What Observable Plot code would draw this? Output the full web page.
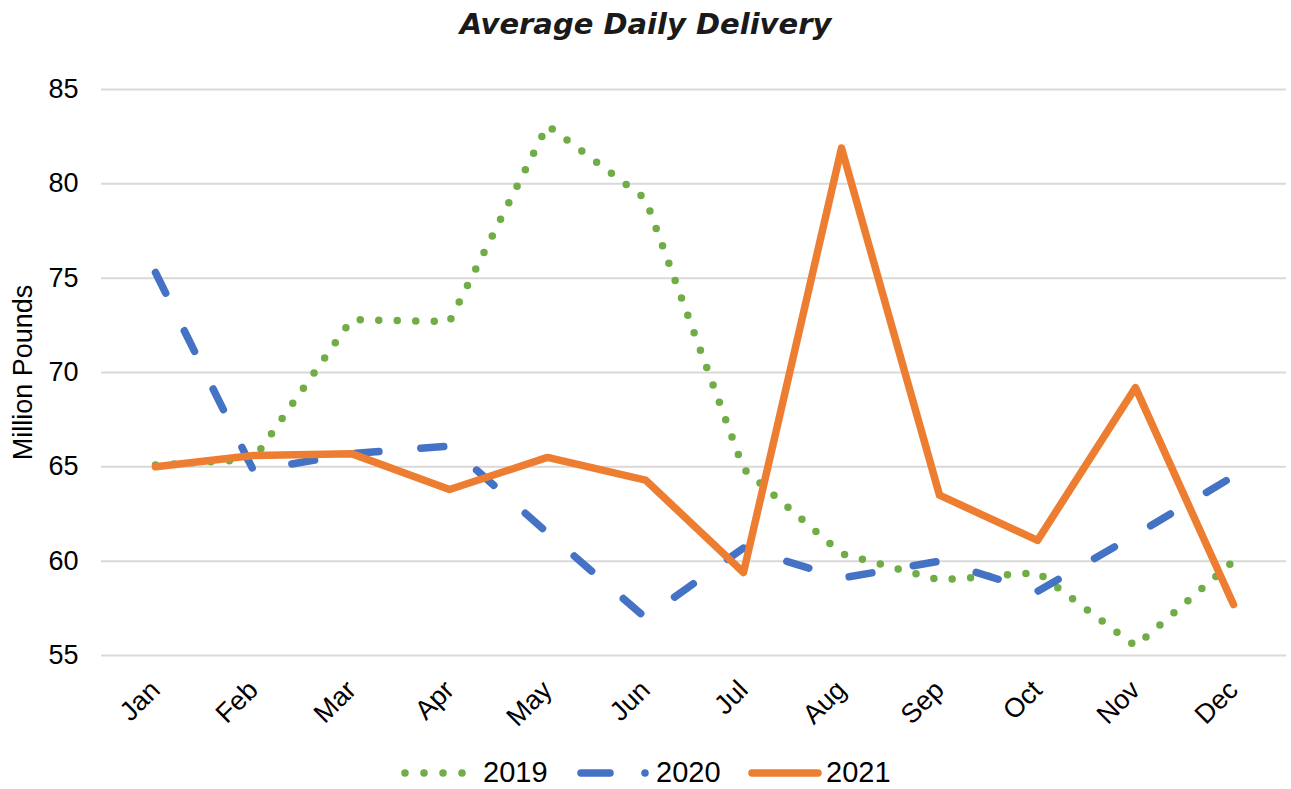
<!DOCTYPE html>
<html><head><meta charset="utf-8">
<script src="https://cdn.jsdelivr.net/npm/d3@7"></script>
<script src="https://cdn.jsdelivr.net/npm/@observablehq/plot@0.6"></script>
<style>
body{margin:0;background:#fff;width:1291px;font-family:"Liberation Sans",Arial,sans-serif;}
#title{height:48px;text-align:center;font:italic bold 29px "DejaVu Sans",Verdana,sans-serif;color:#1a1a1a;line-height:48px;white-space:nowrap}
#chart svg, #legend svg{display:block}
</style></head><body>
<div id="title">Average Daily Delivery</div>
<div id="chart"></div>
<div id="legend"></div>
<script>
const months = ["Jan","Feb","Mar","Apr","May","Jun","Jul","Aug","Sep","Oct","Nov","Dec"];
const years = ["2019","2020","2021"];
const v2019 = [65.1, 65.4, 72.8, 72.7, 83.1, 79.2, 64.9, 60.4, 59.0, 59.4, 55.5, 60.0];
const v2020 = [75.3, 64.8, 65.7, 66.1, 61.5, 57.0, 60.7, 59.1, 60.0, 58.4, 61.4, 64.5];
const v2021 = [65.0, 65.6, 65.7, 63.8, 65.5, 64.3, 59.4, 81.9, 63.5, 61.1, 69.2, 57.7];
const yTicks = [55, 60, 65, 70, 75, 80, 85];
const yLabel = "Million Pounds";
const colors = ["#70AD47", "#4472C4", "#ED7D31"];

const series = [v2019, v2020, v2021];
const rows = (vals, year) => months.map((m, i) => ({month: m, year, value: vals[i]}));
const styles = [
  {strokeDasharray: "0 18.5", strokeLinecap: "round"},
  {strokeDasharray: "23 42", strokeLinecap: "round"},
  {strokeLinecap: "round", strokeLinejoin: "round"}
];

const chart = Plot.plot({
  width: 1291, height: 700,
  marginTop: 41, marginBottom: 93, marginLeft: 101, marginRight: 5,
  style: {fontFamily: "'Liberation Sans', Arial, sans-serif", fontSize: "27px", color: "#000", background: "#fff", overflow: "visible"},
  x: {type: "point", domain: months, padding: 0.5},
  y: {domain: [55, 85]},
  marks: [
    Plot.gridY(yTicks, {stroke: "#d9d9d9", strokeOpacity: 1, strokeWidth: 2}),
    Plot.axisY(yTicks, {tickSize: 0, tickPadding: 23, label: yLabel, labelAnchor: "center", labelArrow: "none", labelOffset: 89, fontSize: 27}),
    Plot.axisX({tickSize: 0, tickRotate: -45, tickPadding: 30, label: null, fontSize: 27}),
    ...series.map((vals, k) => Plot.line(rows(vals, years[k]), {
      x: "month", y: "value", stroke: colors[k], strokeWidth: 7.5, ...styles[k]
    }))
  ]
});
document.getElementById("chart").appendChild(chart);

// legend
const lg = d3.select("#legend").append("svg").attr("width", 1291).attr("height", 41)
  .style("font-family", "'Liberation Sans', Arial, sans-serif");
const cy = 25;
lg.append("line").attr("x1", 405).attr("x2", 470).attr("y1", cy).attr("y2", cy)
  .attr("stroke", colors[0]).attr("stroke-width", 7.5).attr("stroke-dasharray", "0 19").attr("stroke-linecap", "round");
lg.append("line").attr("x1", 581).attr("x2", 610).attr("y1", cy).attr("y2", cy)
  .attr("stroke", colors[1]).attr("stroke-width", 7.5).attr("stroke-linecap", "round");
lg.append("circle").attr("cx", 645).attr("cy", cy).attr("r", 3.75).attr("fill", colors[1]);
lg.append("line").attr("x1", 752).attr("x2", 818).attr("y1", cy).attr("y2", cy)
  .attr("stroke", colors[2]).attr("stroke-width", 7.5).attr("stroke-linecap", "round");
[[483, years[0]], [656, years[1]], [826, years[2]]].forEach(([x, t]) => {
  lg.append("text").attr("x", x).attr("y", 34).attr("font-size", 29).attr("fill", "#000").text(t);
});
</script>
</body></html>
